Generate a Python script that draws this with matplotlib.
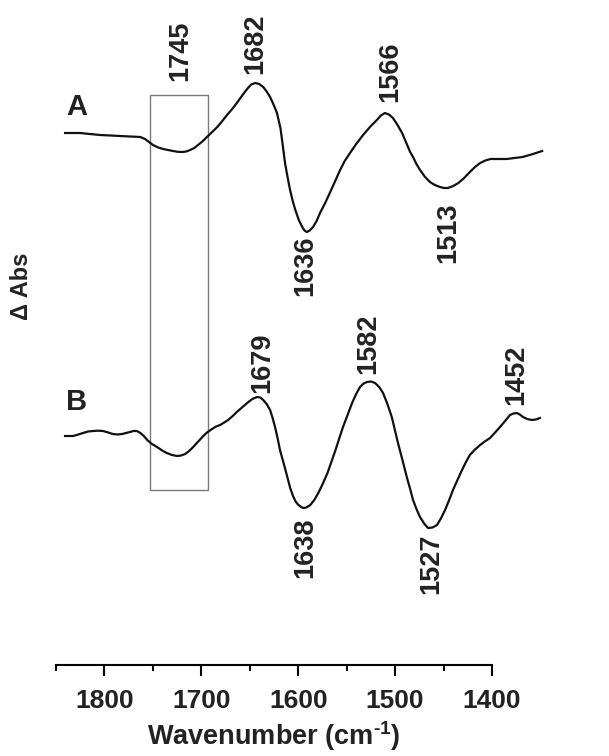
import matplotlib.pyplot as plt
from matplotlib.patches import Rectangle
from matplotlib.ticker import MultipleLocator

plt.rcParams['font.family'] = ['Liberation Sans', 'DejaVu Sans']
plt.rcParams['mathtext.fontset'] = 'custom'
plt.rcParams['mathtext.bf'] = 'Liberation Sans:bold'
plt.rcParams['mathtext.rm'] = 'Liberation Sans:bold'

# spectrum A: (wavenumber, delta abs in arbitrary units)
spec_a = [(1846.6, 0), (1840, 0), (1833.6, 0), (1825, -1), (1816, -2), (1807, -2.5),
          (1798.7, -3), (1790, -3.5), (1781, -4), (1777, -6), (1773.5, -9), (1770, -12),
          (1765.5, -14.5), (1761, -16), (1757, -17), (1752.6, -18), (1748.5, -18.8),
          (1744.7, -19), (1741, -18.5), (1737.7, -17), (1734, -15), (1730.8, -12),
          (1727, -8.5), (1723, -4), (1718.5, 1), (1714, 6), (1710, 11.5), (1705.5, 18),
          (1701, 24), (1697, 30), (1692, 38), (1688, 44), (1684.5, 48.5), (1681, 50),
          (1677.5, 49), (1674, 46), (1671, 41.5), (1668, 36), (1665, 28.5), (1662, 20),
          (1659, 5), (1657, -12), (1655, -30), (1652.8, -44), (1650.6, -57), (1648.3, -68),
          (1646, -77), (1643, -87), (1640, -94), (1638, -97.5), (1636, -99), (1633.5, -97.5),
          (1630.6, -94), (1627.5, -88), (1624.5, -80), (1620, -70), (1616, -60),
          (1611.5, -48.5), (1607, -37), (1603, -28), (1598.4, -20), (1593, -11), (1587, -2),
          (1581, 6), (1575, 13), (1571.5, 17.5), (1568, 20), (1564.5, 18.5), (1561, 15),
          (1557, 8), (1553, 0), (1549.5, -9.5), (1546, -19), (1543.5, -24), (1540.5, -31),
          (1537.4, -37), (1533, -44), (1528.7, -49), (1524.5, -52), (1520, -54),
          (1516.5, -55), (1513, -55), (1508.5, -53), (1504, -50), (1499, -45), (1494, -39),
          (1489.5, -34), (1485, -30), (1480.5, -27.5), (1476, -26), (1469, -26), (1462, -26),
          (1455, -25), (1448, -24), (1443.5, -22.5), (1439, -21), (1435, -19.5), (1431, -18)]

# spectrum B
spec_b = [(1846.6, 0), (1839.7, 0), (1835, 1.5), (1831, 3), (1826.5, 4.5), (1822, 5),
          (1818, 5.3), (1813.5, 5), (1809, 3.5), (1805, 2), (1801, 1.5), (1797, 2),
          (1793.5, 3), (1790, 4), (1787, 5), (1784, 5), (1781, 3), (1778, 0), (1775, -4),
          (1771, -8), (1766.5, -11), (1762, -14.5), (1758, -17), (1753.5, -19), (1749, -20),
          (1745.5, -19.5), (1742, -18), (1738.5, -15), (1735, -11), (1731, -6), (1727, -1),
          (1723, 3.5), (1718.6, 7), (1715, 9.5), (1711.6, 11), (1708, 13.5), (1704.6, 16),
          (1701, 19.5), (1697, 24), (1692.5, 28.5), (1688, 33), (1683.5, 37), (1679.4, 39),
          (1676.5, 38.5), (1674, 36), (1671, 32), (1668, 26), (1665.8, 18), (1663.7, 9),
          (1661.5, -2), (1659.4, -14), (1656, -28), (1653, -41), (1650.5, -52), (1648, -60),
          (1645.8, -65.5), (1643.7, -68.5), (1641, -71), (1639, -72), (1636.5, -71.5),
          (1633, -69), (1629.5, -64), (1626, -57), (1622, -47.5), (1618, -37), (1614.5, -25.5),
          (1611, -14), (1607.8, -2.5), (1604.5, 9), (1600.5, 21), (1596.6, 33), (1593, 42),
          (1589.7, 49), (1586.5, 52.5), (1583.6, 54), (1580, 54.5), (1576.6, 53), (1573, 49),
          (1569.6, 43), (1565.8, 32), (1562, 19), (1559.3, 6), (1556.6, -7), (1552.6, -24.5),
          (1548.7, -42), (1546, -53), (1543.5, -64), (1540.5, -73), (1537.4, -81),
          (1533.5, -88), (1530.4, -92), (1526.5, -91.5), (1522.6, -89), (1519, -82),
          (1515.6, -74), (1512, -64), (1508.7, -54), (1504.8, -44), (1500.8, -34),
          (1497.4, -26), (1494, -19), (1489.5, -13.5), (1485, -9), (1481, -5.5),
          (1476.4, -2), (1472, 3.5), (1467.7, 9), (1463.3, 15), (1459, 21), (1456, 22.5),
          (1453, 23), (1450.5, 21.5), (1447.7, 19), (1444, 17), (1440, 16), (1436.5, 16.5),
          (1433, 18)]

peak_labels = ['1745', '1682', '1566', '1636', '1513',
               '1679', '1582', '1638', '1452', '1527']
label_x = [1746, 1681, 1563.5, 1637.5, 1513,
           1675, 1582.5, 1637.5, 1454, 1528]
label_y = [614, 621, 593, 399, 432,
           302, 321, 117, 290, 101]

offset_a = 532
offset_b = 229

fig = plt.figure(figsize=(6.09, 7.56), dpi=100)
ax = fig.add_axes([56 / 609, 1 - 665 / 756, 436 / 609, 665 / 756])

ax.set_xlim(1850, 1400)
ax.set_ylim(0, 665)
ax.xaxis.set_major_locator(MultipleLocator(100))
ax.xaxis.set_minor_locator(MultipleLocator(50))
for s in ['top', 'left', 'right']:
    ax.spines[s].set_visible(False)
ax.spines['bottom'].set_linewidth(1.5)
ax.set_yticks([])
ax.tick_params(axis='x', which='major', direction='out', length=8, width=1.5,
               labelsize=19, pad=9, labelcolor='#222222')
ax.tick_params(axis='x', which='minor', direction='out', length=4.5, width=1.5)
for lab in ax.get_xticklabels():
    lab.set_fontweight('bold')
ax.set_xlabel(r'Wavenumber (cm$^{\text{-1}}$)', fontsize=19.5, fontweight='bold',
              labelpad=5, color='#222222')

# curves live on their own wavenumber scale
ax2 = ax.twiny()
ax2.set_xlim(1854.5, 1474.7)
ax2.set_axis_off()

wa, va = zip(*spec_a)
wb, vb = zip(*spec_b)
ax2.plot(wa, [v + offset_a for v in va], color='#111111', lw=1.6,
         clip_on=False, solid_joinstyle='round')
ax2.plot(wb, [v + offset_b for v in vb], color='#111111', lw=1.6,
         clip_on=False, solid_joinstyle='round')

ax2.add_patch(Rectangle((1772.6, 175), 1722 - 1772.6, 395, fill=False,
                        edgecolor='#7a7a7a', lw=1.0))

for t, x, y in zip(peak_labels, label_x, label_y):
    ax2.text(x, y, t, rotation=90, ha='center', va='center', fontsize=19.5,
             fontweight='bold', color='#222222', clip_on=False)

fig.text(77 / 609, 1 - 107 / 756, 'A', fontsize=21, fontweight='bold',
         ha='center', va='center', color='#222222')
fig.text(77 / 609, 1 - 402 / 756, 'B', fontsize=21, fontweight='bold',
         ha='center', va='center', color='#222222')
fig.text(22 / 609, 1 - 286 / 756, 'Δ Abs', fontsize=17, fontweight='bold',
         rotation=90, ha='center', va='center', color='#222222')

fig.savefig('out.png', dpi=100)
